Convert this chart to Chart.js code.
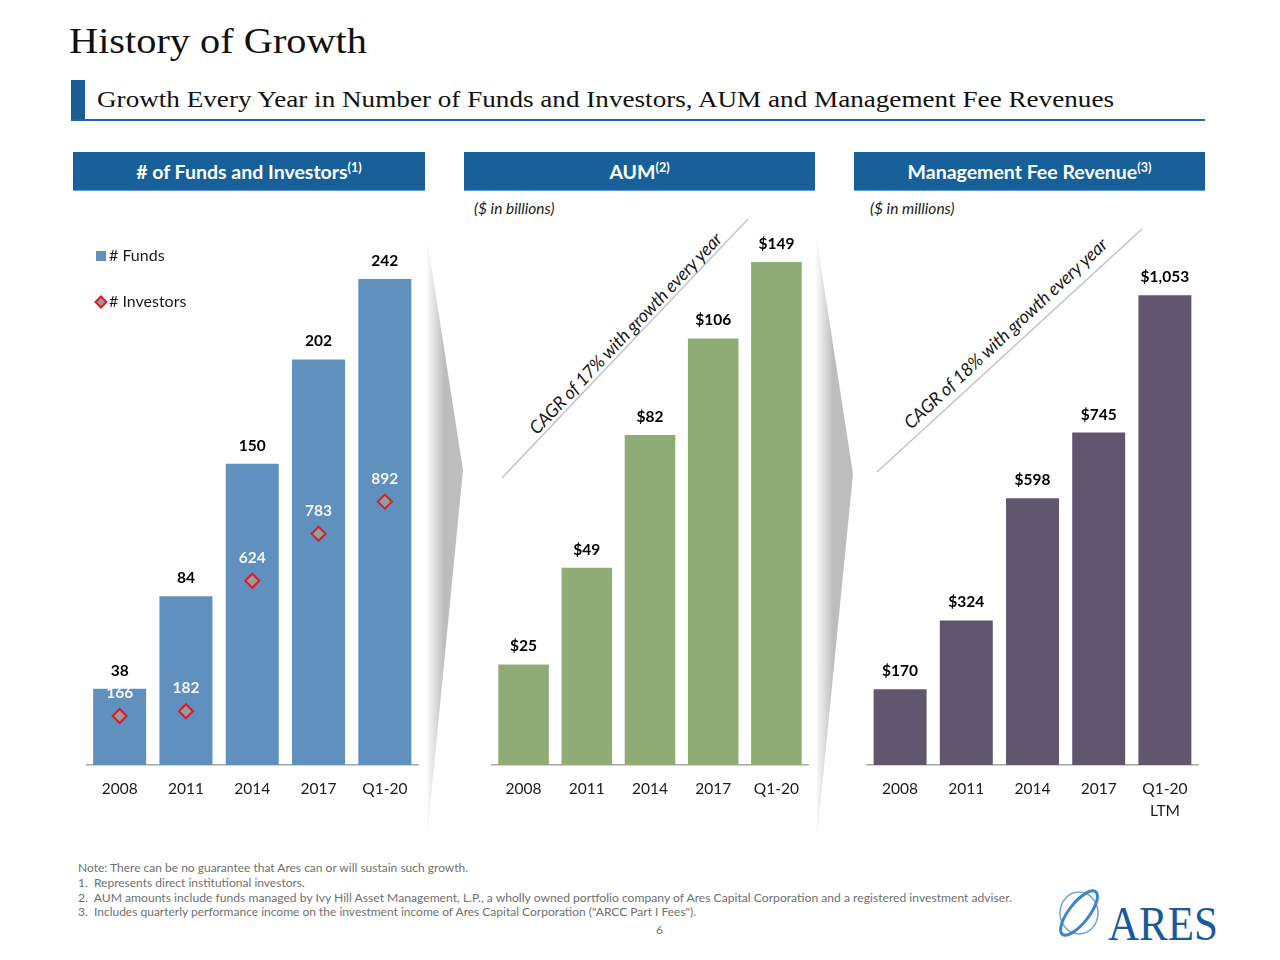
<!DOCTYPE html>
<html><head><meta charset="utf-8">
<script src="https://cdn.jsdelivr.net/npm/chart.js@4.4.1/dist/chart.umd.min.js"></script>
<style>
html,body{margin:0;padding:0;}
body{width:1280px;height:960px;background:#fff;position:relative;overflow:hidden;font-family:Lato,"Open Sans",sans-serif;color:#1a1a1a;}
.abs{position:absolute;white-space:nowrap;}
#title{left:69px;top:23px;font-size:36px;line-height:36px;font-family:"Liberation Serif",serif;color:#111;transform-origin:0 0;}
#subbar{left:71px;top:80px;width:14px;height:41px;background:#1a5e94;}
#subline{left:71px;top:119px;width:1134px;height:2px;background:#1f69a6;}
#subtitle{left:97px;top:87px;font-size:24px;line-height:24px;font-family:"Liberation Serif",serif;color:#111;transform-origin:0 0;}
.hdr{position:absolute;top:152px;height:39px;line-height:40px;background:#17609a;color:#fff;font-weight:bold;font-size:19.5px;text-align:center;border-bottom:1px solid #5fa3d8;box-sizing:border-box;}
.hdr sup{font-size:12.5px;line-height:0;vertical-align:7px;}
.cap{font-style:italic;font-size:15.5px;line-height:18px;top:199px;}
.cagr{font-style:italic;font-size:18px;line-height:20px;color:#1a1a1a;letter-spacing:-0.2px;}
canvas{position:absolute;}
.note{left:78px;font-size:12px;line-height:14.6px;color:#707070;transform-origin:0 0;}
#logo{left:1108px;top:899px;font-family:"Liberation Serif",serif;font-size:48px;line-height:50px;color:#1b5a96;transform-origin:0 0;}
</style>
</head><body>
<div id="title" class="abs">History of Growth</div>
<div id="subbar" class="abs"></div>
<div id="subline" class="abs"></div>
<div id="subtitle" class="abs">Growth Every Year in Number of Funds and Investors, AUM and Management Fee Revenues</div>

<div class="hdr" style="left:73px;width:352px;"># of Funds and Investors<sup>(1)</sup></div>
<div class="hdr" style="left:464px;width:351px;">AUM<sup>(2)</sup></div>
<div class="hdr" style="left:854px;width:351px;">Management Fee Revenue<sup>(3)</sup></div>

<div class="abs cap" style="left:474px;">($ in billions)</div>
<div class="abs cap" style="left:870px;">($ in millions)</div>

<svg class="abs" style="left:0;top:0;" width="1280" height="960">
  <defs>
    <linearGradient id="g1" gradientUnits="userSpaceOnUse" x1="426" y1="0" x2="444" y2="0">
      <stop offset="0" stop-color="#ffffff"/><stop offset="1" stop-color="#bdbdbd"/>
    </linearGradient>
    <linearGradient id="g2" gradientUnits="userSpaceOnUse" x1="815" y1="0" x2="833" y2="0">
      <stop offset="0" stop-color="#ffffff"/><stop offset="1" stop-color="#bdbdbd"/>
    </linearGradient>
  </defs>
  <polygon points="426,232 463,470 427,838" fill="url(#g1)"/>
  <polygon points="815,228 853,474 817,838" fill="url(#g2)"/>
  <line x1="502" y1="478" x2="748" y2="219" stroke="#c4c4c4" stroke-width="1.5"/>
  <line x1="877" y1="472" x2="1142" y2="229" stroke="#c4c4c4" stroke-width="1.5"/>
  <g fill="none">
    <ellipse cx="1079" cy="913" rx="19" ry="21" stroke="#6fa6d6" stroke-width="1.5"/>
    <ellipse cx="1079" cy="913" rx="27" ry="10" transform="rotate(-52 1079 913)" stroke="#3f85c6" stroke-width="3"/>
  </g>
</svg>

<div class="abs cagr" id="cagr1" style="left:625px;top:333px;">CAGR of 17% with growth every year</div>
<div class="abs cagr" id="cagr2" style="left:1005px;top:333px;">CAGR of 18% with growth every year</div>

<canvas id="funds" width="380" height="650" style="left:60px;top:190px;"></canvas>
<canvas id="aum" width="380" height="650" style="left:450px;top:190px;"></canvas>
<canvas id="fee" width="400" height="650" style="left:840px;top:190px;"></canvas>

<div class="abs note" style="top:861px;">Note: There can be no guarantee that Ares can or will sustain such growth.</div>
<div class="abs note" style="top:876px;">1.&nbsp; Represents direct institutional investors.</div>
<div class="abs note" id="n3" style="top:890.5px;">2.&nbsp; AUM amounts include funds managed by Ivy Hill Asset Management, L.P., a wholly owned portfolio company of Ares Capital Corporation and a registered investment adviser.</div>
<div class="abs note" style="top:905px;">3.&nbsp; Includes quarterly performance income on the investment income of Ares Capital Corporation ("ARCC Part I Fees").</div>
<div class="abs" style="left:656px;top:922px;font-size:12px;color:#707070;">6</div>
<div class="abs" id="logo">ARES</div>

<script>
// ---- data ----
const categories = ['2008', '2011', '2014', '2017', 'Q1-20'];
const feeCategories = ['2008', '2011', '2014', '2017', ['Q1-20', 'LTM']];
const fundsValues = [38, 84, 150, 202, 242];
const investorValues = [166, 182, 624, 783, 892];
const aumValues = [25, 49, 82, 106, 149];
const feeValues = [170, 324, 598, 745, 1053];

const fundsLabel = '# Funds';
const investorsLabel = '# Investors';

// ---- fit serif headings to reference widths ----
function fitWidth(id, w) {
  const el = document.getElementById(id);
  const nat = el.getBoundingClientRect().width;
  if (nat > 0) el.style.transform = 'scaleX(' + (w / nat) + ')';
}
fitWidth('title', 298);
fitWidth('subtitle', 1017);
fitWidth('n3', 934);
fitWidth('logo', 110);
document.getElementById('cagr1').style.transform = 'translate(-50%,-50%) rotate(-46.4deg)';
document.getElementById('cagr2').style.transform = 'translate(-50%,-50%) rotate(-42.9deg)';

const FONT = 'Lato, "Open Sans", sans-serif';
const BLUE = '#6091be', GREEN = '#8fab76', PURPLE = '#605670';

const specs = {
  funds: [
    { fmt: v => String(v), color: '#000', dy: -18 },
    { fmt: v => String(v), color: '#f4f4f4', dy: -23 }
  ],
  aum: [{ fmt: v => '$' + v, color: '#000', dy: -18 }],
  fee: [{ fmt: v => '$' + v.toLocaleString('en-US'), color: '#000', dy: -18 }]
};

const valueLabels = {
  id: 'valueLabels',
  afterDatasetsDraw(chart) {
    const spec = specs[chart.canvas.id];
    if (!spec) return;
    const ctx = chart.ctx, top = chart.chartArea.top;
    ctx.save();
    ctx.textAlign = 'center';
    ctx.textBaseline = 'middle';
    ctx.font = 'bold 15.5px ' + FONT;
    chart.data.datasets.forEach((ds, i) => {
      const s = spec[i];
      const meta = chart.getDatasetMeta(i);
      meta.data.forEach((el, j) => {
        const y = Math.max(el.y, top);
        ctx.fillStyle = s.color;
        ctx.fillText(s.fmt(ds.data[j]), el.x, y + s.dy);
      });
    });
    ctx.restore();
  }
};

const sideLegend = {
  id: 'sideLegend',
  afterDraw(chart) {
    if (chart.canvas.id !== 'funds') return;
    const ctx = chart.ctx;
    const dsets = chart.data.datasets;
    ctx.save();
    ctx.font = '16px ' + FONT;
    ctx.textBaseline = 'middle';
    ctx.textAlign = 'left';
    ctx.fillStyle = dsets[0].backgroundColor;
    ctx.fillRect(36, 61, 10, 10);
    ctx.fillStyle = '#1a1a1a';
    ctx.fillText(dsets[0].label, 49, 66);
    const cx = 41, cy = 112, r = 5.5;
    ctx.beginPath();
    ctx.moveTo(cx, cy - r); ctx.lineTo(cx + r, cy); ctx.lineTo(cx, cy + r); ctx.lineTo(cx - r, cy); ctx.closePath();
    ctx.fillStyle = dsets[1].pointBackgroundColor;
    ctx.fill();
    ctx.lineWidth = 2;
    ctx.strokeStyle = dsets[1].pointBorderColor;
    ctx.stroke();
    ctx.fillStyle = '#1a1a1a';
    ctx.fillText(dsets[1].label, 49, 112);
    ctx.restore();
  }
};

function xAxis(lineHeight, pad) {
  return {
    offset: true,
    grid: { display: false, drawTicks: false },
    border: { display: true, color: '#a6a6a6', width: 1.5 },
    ticks: { color: '#1a1a1a', padding: pad, font: { family: FONT, size: 15.5, lineHeight: lineHeight }, maxRotation: 0, autoSkip: false },
    afterFit: s => { s.height = 75; }
  };
}

const common = {
  responsive: false,
  animation: false,
  events: [],
  plugins: { legend: { display: false }, tooltip: { enabled: false } }
};

new Chart(document.getElementById('funds'), {
  type: 'bar',
  data: {
    labels: categories,
    datasets: [
      { label: fundsLabel, data: fundsValues, backgroundColor: BLUE, barPercentage: 0.8, categoryPercentage: 1, order: 1, yAxisID: 'y' },
      { type: 'line', label: investorsLabel, data: investorValues, showLine: false, pointStyle: 'rectRot', pointRadius: 7,
        pointBorderWidth: 2, pointBorderColor: '#d71f2c', pointBackgroundColor: '#9b9b9b', order: 0, yAxisID: 'y2' }
    ]
  },
  options: Object.assign({}, common, {
    layout: { padding: { left: 26.5, right: 22, top: 73, bottom: 0 } },
    scales: {
      x: xAxis(1.2, 15),
      y: { display: false, min: 0, max: 250 },
      y2: { display: false, min: 0, max: 1700 }
    }
  }),
  plugins: [valueLabels, sideLegend]
});

new Chart(document.getElementById('aum'), {
  type: 'bar',
  data: {
    labels: categories,
    datasets: [{ label: 'AUM', data: aumValues, backgroundColor: GREEN, barPercentage: 0.8, categoryPercentage: 1 }]
  },
  options: Object.assign({}, common, {
    layout: { padding: { left: 42, right: 22, top: 72, bottom: 0 } },
    scales: { x: xAxis(1.2, 15), y: { display: false, min: 0, max: 125 } }
  }),
  plugins: [valueLabels]
});

new Chart(document.getElementById('fee'), {
  type: 'bar',
  data: {
    labels: feeCategories,
    datasets: [{ label: 'Management Fee Revenue', data: feeValues, backgroundColor: PURPLE, barPercentage: 0.8, categoryPercentage: 1 }]
  },
  options: Object.assign({}, common, {
    layout: { padding: { left: 27, right: 42, top: 73, bottom: 0 } },
    scales: { x: xAxis(1.42, 13), y: { display: false, min: 0, max: 1125 } }
  }),
  plugins: [valueLabels]
});
</script>
</body></html>
